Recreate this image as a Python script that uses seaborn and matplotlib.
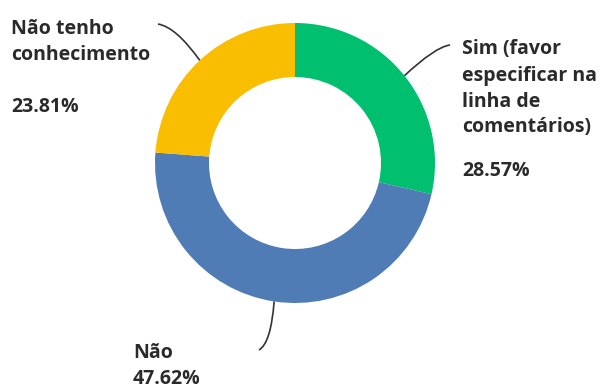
import numpy as np
import matplotlib
matplotlib.use("Agg")
import matplotlib.pyplot as plt
from matplotlib.path import Path
from matplotlib.patches import PathPatch
import seaborn as sns

# Survey answers, drawn clockwise from 12 o'clock
categories = ["Sim (favor especificar na linha de comentários)", "Não", "Não tenho conhecimento"]
shares = [28.57, 47.62, 23.81]
label_lines = [["Sim (favor", "especificar na", "linha de", "comentários)"], ["Não"], ["Não tenho", "conhecimento"]]
colors = ["#00BF6F", "#507CB6", "#F9BE00"]

sns.set_theme(style="white")
plt.rcParams["font.family"] = ["Open Sans", "DejaVu Sans"]
palette = sns.color_palette(colors)

W, H = 600, 385
fig = plt.figure(figsize=(W / 100, H / 100), dpi=100)
ax = fig.add_axes([0, 0, 1, 1])

cx, cy, r_out, ring = 295, H - 163, 140, 54
wedges, _ = ax.pie(shares, colors=palette, startangle=90, counterclock=False,
                   center=(cx, cy), radius=r_out, frame=True,
                   wedgeprops=dict(width=ring, edgecolor="none"))
ax.set_xlim(0, W)
ax.set_ylim(0, H)
ax.set_aspect("equal")
ax.axis("off")

def py(y):
    return H - y

# leader lines: start at each wedge's mid-angle on the outer edge
ends = [((435, 47), (450, 45)), ((271, 343), (259, 350)), ((176, 27), (158, 24))]
for w, (ctrl, end) in zip(wedges, ends):
    mid = np.deg2rad((w.theta1 + w.theta2) / 2)
    sx, sy = cx + r_out * np.cos(mid), cy + r_out * np.sin(mid)
    path = Path([(sx, sy), (ctrl[0], py(ctrl[1])), (end[0], py(end[1]))],
                [Path.MOVETO, Path.CURVE3, Path.CURVE3])
    ax.add_patch(PathPatch(path, fc="none", ec="#333333", lw=1.2))

txt = dict(color="#2a2a2a", fontsize=14, fontweight="bold", va="baseline", ha="left")

# label blocks: (x, baselines of name lines, baseline of percentage)
layout = [(462, [54, 81, 107, 132], 176), (133, [358], 384), (11, [34, 60], 112)]
for lines, share, (x, bases, pbase) in zip(label_lines, shares, layout):
    for line, b in zip(lines, bases):
        ax.text(x, py(b), line, **txt)
    ax.text(x, py(pbase), f"{share:.2f}%", **txt)

fig.savefig("out.png", dpi=100, facecolor="white")
